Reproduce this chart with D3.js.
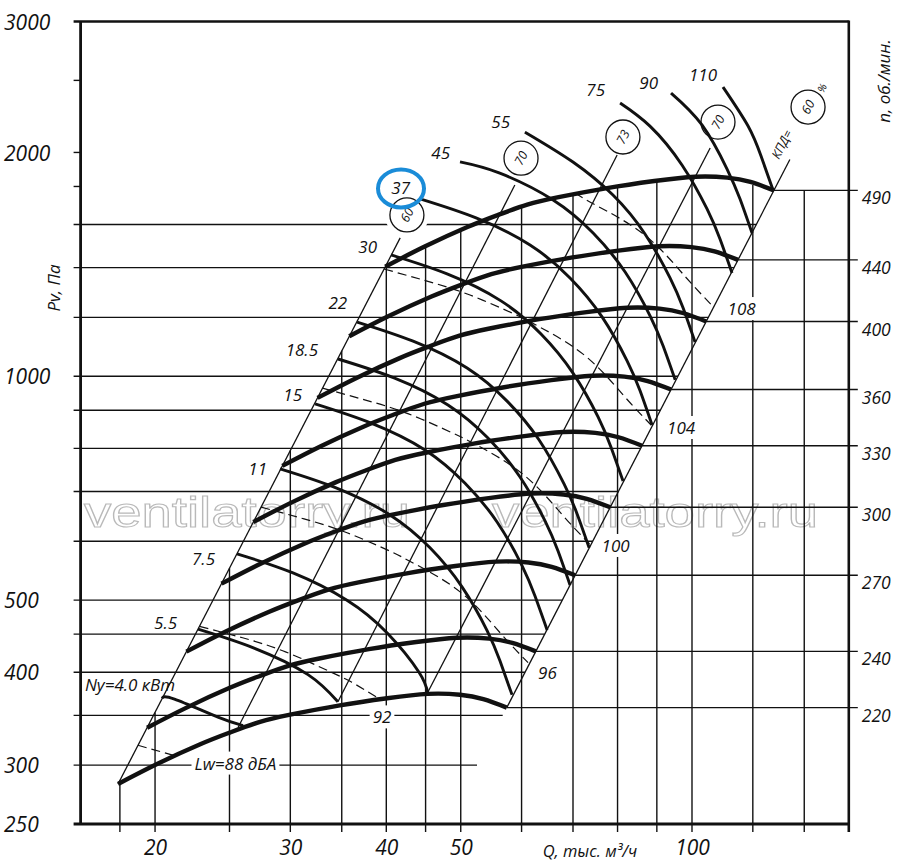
<!DOCTYPE html>
<html lang="ru">
<head>
<meta charset="utf-8">
<title>Аэродинамическая характеристика</title>
<script src="https://cdn.jsdelivr.net/npm/d3@7/dist/d3.min.js"></script>
<style>
  html, body { margin: 0; background: #fff; }
  svg { display: block; }
</style>
</head>
<body>
<svg id="chart" width="900" height="867"></svg>
<script>
// Q in thousand m3/h, Pv in Pa
const rpm = [220, 240, 270, 300, 330, 360, 400, 440, 490];
const fanCurves = [
  [[17.9,283],[20.12,301],[22.9,320],[25.06,332],[27.4,343],[30.1,351],[34.8,361],[40.1,369],[45.3,374],[49.9,373],[53.5,368],[57.4,358.5]],
  [[19.53,336.8],[21.95,358.2],[24.98,380.8],[27.34,395.1],[29.89,408.2],[32.84,417.7],[37.96,429.6],[43.75,439.2],[49.42,445.1],[54.44,443.9],[58.36,438.0],[62.62,426.7]],
  [[21.97,426.3],[24.69,453.4],[28.11,482.0],[30.76,500.1],[33.63,516.6],[36.94,528.7],[42.71,543.7],[49.21,555.8],[55.6,563.3],[61.24,561.8],[65.66,554.3],[70.45,540.0]],
  [[24.41,526.2],[27.44,559.7],[31.23,595.0],[34.17,617.4],[37.36,637.8],[41.05,652.7],[47.45,671.3],[54.68,686.2],[61.77,695.5],[68.04,693.6],[72.95,684.3],[78.27,666.6]],
  [[26.85,636.8],[30.18,677.3],[34.35,720.0],[37.59,747.0],[41.1,771.8],[45.15,789.8],[52.2,812.3],[60.15,830.3],[67.95,841.5],[74.85,839.3],[80.25,828.0],[86.1,806.6]],
  [[29.29,757.8],[32.92,806.0],[37.47,856.9],[41.01,889.0],[44.84,918.5],[49.26,939.9],[56.95,966.7],[65.62,988.1],[74.13,1001.5],[81.66,998.8],[87.55,985.4],[93.93,960.0]],
  [[32.55,935.5],[36.58,995.0],[41.64,1057.9],[45.56,1097.5],[49.82,1133.9],[54.73,1160.3],[63.27,1193.4],[72.91,1219.8],[82.36,1236.4],[90.73,1233.1],[97.27,1216.5],[104.36,1185.1]],
  [[35.8,1132],[40.24,1204],[45.8,1280],[50.12,1328],[54.8,1372],[60.2,1404],[69.6,1444],[80.2,1476],[90.6,1496],[99.8,1492],[107.0,1472],[114.8,1434]],
  [[39.87,1403.9],[44.81,1493.2],[51.01,1587.4],[55.82,1647.0],[61.03,1701.5],[67.04,1741.2],[77.51,1790.8],[89.31,1830.5],[100.9,1855.3],[111.14,1850.3],[119.16,1825.5],[127.85,1778.4]]
];

// motor power lines, kW
const powerKW = ['4.0','5.5','7.5','11','15','18.5','22','30','37','45','55','75','90','110'];
const powerCurves = [
  [[20.42,369],[21.2,368],[24.15,348],[26.04,339]],
  [[22.75,457],[26.91,431],[31.63,397],[34.6,365]],
  [[25.57,577],[30.24,544],[35.55,500],[40.08,452],[44.12,400],[45.3,375]],
  [[29.09,751],[34.41,708],[40.45,651],[45.6,588],[50.19,521],[54.11,455],[56.25,414],[58.31,373]],
  [[32.31,918],[38.22,865],[44.92,796],[50.65,718],[55.75,637],[60.1,556],[62.48,506],[64.77,456]],
  [[34.61,1055],[40.94,995],[48.12,915],[54.25,826],[59.72,732],[64.37,639],[66.93,582],[69.38,524]],
  [[36.65,1183],[43.35,1115],[50.96,1026],[57.45,926],[63.24,821],[68.17,716],[70.87,653],[73.47,588]],
  [[40.57,1456],[47.99,1373],[56.41,1263],[63.6,1140],[70.0,1010],[75.46,882],[78.45,803],[81.33,723]],
  [[44.26,1732],[52.35,1633],[61.54,1502],[69.38,1356],[76.37,1202],[82.32,1049],[85.59,956],[88.72,860]],
  [[49.89,1942],[56.1,1877],[65.95,1726],[74.35,1558],[81.84,1381],[88.22,1205],[91.72,1098],[95.08,989]],
  [[60.62,2130],[69.99,1942],[78.91,1753],[86.86,1554],[93.63,1356],[97.35,1236],[100.91,1112]],
  [[80.61,2331],[88.16,2170],[97.04,1924],[104.61,1679],[108.76,1530],[112.74,1377]],
  [[93.92,2404],[103.04,2178],[111.08,1900],[115.49,1731],[119.72,1558]],
  [[109.75,2449],[118.3,2171],[122.99,1978],[127.49,1780]]
];

// efficiency (КПД, %) lines and their circled marks
const effValues = ['60','70','73','70','60'];
const effLines = [
  [[17.9,283],[41.7,1535]],
  [[25.65,337],[58.8,1808]],
  [[34.6,365],[79.9,1984]],
  [[45.3,376],[105.6,2028]],
  [[57.4,358.5],[134.1,1957]]
];
const effMarks = [[42.55,1648],[59.9,1965],[81.3,2098],[108.1,2197],[141.6,2302]];

// sound power level, dBA
const noiseDB = ['88','92','96','100','104','108'];
const noiseCurves = [
  [[19.0,319],[21.2,309]],
  [[22.85,461],[26.0,445],[29.57,426],[33.74,401],[36.03,388],[38.9,370]],
  [[27.48,667],[31.26,643],[35.56,616],[40.58,581],[43.34,561],[49.9,513],[56.26,452],[61.18,412]],
  [[33.04,964],[37.59,929],[42.76,890],[48.79,839],[52.1,811],[60.0,741],[67.64,653],[73.56,595]],
  [[39.73,1394],[45.2,1343],[51.41,1286],[58.67,1213],[62.65,1172],[72.15,1071],[81.34,944],[88.46,860]],
  [[70.43,1764],[75.33,1694],[86.74,1549],[97.79,1365],[106.36,1243]]
];

// grid
const gridQ    = [18, 20, 25, 30, 35, 40, 45, 50, 60, 70, 80, 90, 100, 120, 140];
const gridQTop = [286, 353, 552, 795, 1082, 1412, 1492, 1568, 1688, 1753, 1795, 1830, 1855, 1810, 1778];
const gridP    = [300, 350, 400, 450, 500, 600, 700, 800, 900, 1000, 1200, 1400, 1600];
const gridPEnd = [52.5, 56.7, 60.6, 64.3, 67.8, 74.3, 80.2, 85.7, 91.0, 95.9, 105.0, 113.4, 121.3];
const minorP = [2500, 2000, 1800];
const leftTicks = [3000, 2000, 1000, 500, 400, 300, 250];
const bottomTicks = [20, 30, 40, 50, 100];

// label offsets in px (layout only)
const powerLabelOff = [[13,-7],[-21,0],[-22,11],[-13,6],[-13,-3],[-20,-3],[-10,-13],[-14,-2],[-10,-5],[-10,-3],[-15,-4],[-15,-7],[-13,-4],[-6,-6]];
const noiseLabelOff = [[20,14,'start'],[5,26,'middle'],[10,16,'start'],[12,8,'start'],[16,9,'start'],[15,9,'start']];

const FONT = '"Open Sans","Noto Sans",sans-serif';
const INK = '#111';
const TICK = 7;

const svg = d3.select('#chart');
const x = d3.scaleLog().domain([16, 160]).range([80.6, 848.8]);
const y = d3.scaleLog().domain([250, 3000]).range([824, 21.5]);
const X0 = x(16), X1 = x(160), Y0 = y(250), Y1 = y(3000);
const ANG = -Math.atan(1.936) * 180 / Math.PI;

const curve = d3.line().x(d => x(d[0])).y(d => y(d[1])).curve(d3.curveNatural);
const straight = d3.line().x(d => x(d[0])).y(d => y(d[1]));

function txt(g, px, py, s, size, anchor) {
  return g.append('text').attr('x', px).attr('y', py).attr('font-family', FONT)
    .attr('font-style', 'italic').attr('font-size', size).attr('fill', INK)
    .attr('text-anchor', anchor || 'start').text(s);
}

const gGrid = svg.append('g').attr('stroke', INK).attr('stroke-width', 1.4).attr('fill', 'none');
const gBg = svg.append('g');
const gMark = svg.append('g');
const gEff = svg.append('g').attr('stroke', INK).attr('stroke-width', 1.3).attr('fill', 'none');
const gNoise = svg.append('g').attr('stroke', INK).attr('stroke-width', 1.2).attr('fill', 'none').attr('stroke-dasharray', '9,5');
const gFan = svg.append('g').attr('stroke', INK).attr('stroke-width', 4.4).attr('fill', 'none');
const gPow = svg.append('g').attr('stroke', INK).attr('stroke-width', 2.9).attr('fill', 'none');
const gFrame = svg.append('g').attr('stroke', INK).attr('fill', 'none');
const gText = svg.append('g');

// watermark
['ventilatorry.ru', 'ventilatorry.ru'].forEach((s, i) => {
  svg.insert('text', ':first-child').attr('x', i ? 492 : 84).attr('y', 527)
    .attr('font-family', '"Liberation Sans",Arial,sans-serif').attr('font-size', 43)
    .attr('textLength', 326).attr('lengthAdjust', 'spacingAndGlyphs')
    .attr('fill', 'none').attr('stroke', '#b9b9b9').attr('stroke-width', 1.1).text(s);
});

// vertical grid
gridQ.forEach((q, i) => {
  gGrid.append('line').attr('x1', x(q)).attr('x2', x(q)).attr('y1', Y0 + 8).attr('y2', y(gridQTop[i]));
});
// horizontal grid
gridP.forEach((p, i) => {
  gGrid.append('line').attr('x1', X0 - TICK).attr('x2', x(gridPEnd[i])).attr('y1', y(p)).attr('y2', y(p));
});
minorP.forEach(p => {
  gGrid.append('line').attr('x1', X0 - TICK).attr('x2', X0).attr('y1', y(p)).attr('y2', y(p));
});
// rpm lines to the right axis
fanCurves.forEach(c => {
  const e = c[c.length - 1];
  gGrid.append('line').attr('x1', x(e[0])).attr('x2', X1 + 9).attr('y1', y(e[1])).attr('y2', y(e[1]));
});

effLines.forEach(l => gEff.append('path').attr('d', straight(l)));
noiseCurves.forEach(c => gNoise.append('path').attr('d', curve(c)));
fanCurves.forEach(c => gFan.append('path').attr('d', curve(c)));
powerCurves.forEach(c => gPow.append('path').attr('d', curve(c)));

// frame
gFrame.append('line').attr('x1', X0 - TICK).attr('x2', X1).attr('y1', Y1).attr('y2', Y1).attr('stroke-width', 2.6);
gFrame.append('line').attr('x1', X0 - TICK).attr('x2', X1).attr('y1', Y0).attr('y2', Y0).attr('stroke-width', 3);
gFrame.append('line').attr('x1', X0).attr('x2', X0).attr('y1', Y1).attr('y2', Y0 + 1).attr('stroke-width', 2.8);
gFrame.append('line').attr('x1', X1).attr('x2', X1).attr('y1', Y1 - 1).attr('y2', Y0 + 8).attr('stroke-width', 2.6);

// efficiency circles
effMarks.forEach((m, i) => {
  const cx = x(m[0]), cy = y(m[1]);
  gMark.append('circle').attr('cx', cx).attr('cy', cy).attr('r', 22).attr('fill', '#fff');
  svg.append('circle').attr('cx', cx).attr('cy', cy).attr('r', 17).attr('fill', 'none')
    .attr('stroke', INK).attr('stroke-width', 1.3);
  txt(gText, cx, cy, effValues[i], 12.5, 'middle').attr('dy', '0.36em')
    .attr('transform', `rotate(${ANG},${cx},${cy})`);
});
{
  const e = effLines[4][1], m = effMarks[4];
  const kx = x(e[0]) - 8, ky = y(e[1]) - 15;
  txt(gText, kx, ky, 'КПД=', 12.5, 'middle').attr('dy', '0.36em')
    .attr('transform', `rotate(${ANG},${kx},${ky})`);
  const px = x(m[0]) + 14, py = y(m[1]) - 19;
  txt(gText, px, py, '%', 10.5, 'middle').attr('dy', '0.36em')
    .attr('transform', `rotate(${ANG},${px},${py})`);
}

// power labels
powerCurves.forEach((c, i) => {
  const s = c[0], o = powerLabelOff[i];
  const label = i === 0 ? `Ny=${powerKW[i]} кВт` : powerKW[i];
  const t = txt(gText, x(s[0]) + o[0], y(s[1]) + o[1], label, 17, 'end');
  if (powerKW[i] === '37') {
    const b = t.node().getBBox();
    svg.append('ellipse').attr('cx', b.x + b.width / 2).attr('cy', b.y + b.height / 2 + 1)
      .attr('rx', 23).attr('ry', 19).attr('fill', 'none')
      .attr('stroke', '#1a8cd8').attr('stroke-width', 4);
  }
});

// noise labels, with white knock-out behind
noiseCurves.forEach((c, i) => {
  const e = c[c.length - 1], o = noiseLabelOff[i];
  const label = i === 0 ? `Lw=${noiseDB[i]} дБА` : noiseDB[i];
  const t = txt(gText, x(e[0]) + o[0], y(e[1]) + o[1], label, 17, o[2]);
  const b = t.node().getBBox();
  gBg.append('rect').attr('x', b.x - 3).attr('y', b.y).attr('width', b.width + 6)
    .attr('height', b.height).attr('fill', '#fff');
});

// axes labels
const axL = svg.append('g').attr('transform', 'translate(4,0)')
  .call(d3.axisLeft(y).tickValues(leftTicks).tickSize(0).tickPadding(0).tickFormat(d3.format('d')));
axL.select('.domain').remove();
axL.selectAll('text').attr('text-anchor', 'start').attr('x', 0).attr('dy', '0.36em');

const axB = svg.append('g').attr('transform', `translate(0,${Y0})`)
  .call(d3.axisBottom(x).tickValues(bottomTicks).tickSize(0).tickPadding(16).tickFormat(d3.format('d')));
axB.select('.domain').remove();

const axR = svg.append('g').attr('transform', `translate(${X1 + 13},0)`)
  .call(d3.axisRight(y).tickValues(fanCurves.map(c => c[c.length - 1][1]))
    .tickSize(0).tickPadding(0).tickFormat((d, i) => rpm[i]));
axR.select('.domain').remove();
axR.selectAll('text').attr('y', 8);

[axL, axB, axR].forEach(a => {
  a.attr('font-family', null).attr('font-size', null);
  a.selectAll('text').attr('font-family', FONT).attr('font-style', 'italic').attr('fill', INK);
});
axL.selectAll('text').attr('font-size', 21);
axB.selectAll('text').attr('font-size', 21);
axR.selectAll('text').attr('font-size', 17.5);

// axis titles
txt(gText, 590, 857, 'Q, тыс. м³/ч', 16.5, 'middle');
txt(gText, 0, 0, 'Pv, Па', 17, 'middle').attr('transform', 'translate(60,288) rotate(-90)');
txt(gText, 0, 0, 'n, об./мин.', 17, 'middle').attr('transform', 'translate(890,81) rotate(-90)');
</script>
</body>
</html>
